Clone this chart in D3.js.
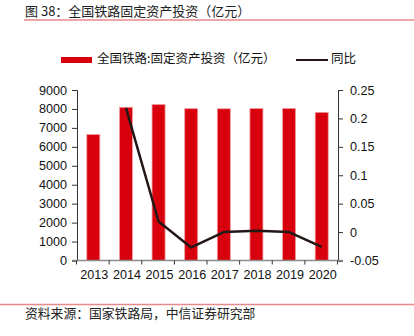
<!DOCTYPE html>
<html>
<head>
<meta charset="utf-8">
<script src="https://cdn.jsdelivr.net/npm/d3@7"></script>
<style>
  html, body { margin: 0; padding: 0; background: #fff; }
  svg { display: block; }
</style>
</head>
<body>
<svg id="chart" width="414" height="336"></svg>
<script>
const years = ["2013", "2014", "2015", "2016", "2017", "2018", "2019", "2020"];
const investment = [6657, 8088, 8238, 8015, 8010, 8028, 8029, 7819];
const yoyYears = ["2014", "2015", "2016", "2017", "2018", "2019", "2020"];
const yoy = [0.2184, 0.0186, -0.0271, 0.0000, 0.0022, 0.0001, -0.0262];
const leftTicks = [0, 1000, 2000, 3000, 4000, 5000, 6000, 7000, 8000, 9000];
const rightTicks = [-0.05, 0, 0.05, 0.1, 0.15, 0.2, 0.25];

const titleText = "图 38：全国铁路固定资产投资（亿元）";
const barLegend = "全国铁路:固定资产投资（亿元）";
const lineLegend = "同比";
const sourceText = "资料来源：国家铁路局，中信证券研究部";

(function () {
const svg = d3.select("#chart");
const cjk = "'Noto Sans CJK SC', 'Noto Sans', sans-serif";
const num = "'Liberation Sans', Arial, sans-serif";

const pL = 77, pR = 338, pT = 90, pB = 260.5;

const x = d3.scaleBand().domain(years).range([pL, pR]).paddingInner(0.6).paddingOuter(0.3);
const yL = d3.scaleLinear().domain([0, 9000]).range([pB, pT]);
const yR = d3.scaleLinear().domain([-0.05, 0.25]).range([pB, pT]);

// title
svg.append("text").attr("x", 25).attr("y", 12).attr("dominant-baseline", "middle")
  .attr("font-family", cjk).attr("font-size", 13).attr("fill", "#222").text(titleText);
svg.append("line").attr("x1", 24).attr("x2", 414).attr("y1", 20).attr("y2", 20)
  .attr("stroke", "#e8898c").attr("stroke-width", 1.5);

// legend
svg.append("rect").attr("x", 61).attr("y", 57).attr("width", 31).attr("height", 6).attr("fill", "#d9000d");
svg.append("text").attr("x", 97).attr("y", 60).attr("dominant-baseline", "middle")
  .attr("font-family", cjk).attr("font-size", 12.5).attr("fill", "#111").text(barLegend);
svg.append("line").attr("x1", 296).attr("x2", 328).attr("y1", 60).attr("y2", 60)
  .attr("stroke", "#231815").attr("stroke-width", 2);
svg.append("text").attr("x", 331).attr("y", 60).attr("dominant-baseline", "middle")
  .attr("font-family", cjk).attr("font-size", 12.5).attr("fill", "#111").text(lineLegend);

// bars
svg.append("g").selectAll("rect").data(years).join("rect")
  .attr("x", (d) => x(d))
  .attr("y", (d, i) => yL(investment[i]))
  .attr("width", x.bandwidth())
  .attr("height", (d, i) => pB - yL(investment[i]))
  .attr("fill", "#d9000d")
  .attr("stroke", "#f2a0a4").attr("stroke-width", 0.8);

// left axis
const axL = svg.append("g").attr("transform", `translate(${pL},0)`)
  .call(d3.axisLeft(yL).tickValues(leftTicks).tickSize(5).tickPadding(5).tickFormat(d3.format("d")));
axL.select(".domain").attr("stroke", "#333");
axL.selectAll(".tick line").attr("stroke", "#333");
axL.selectAll("text").attr("font-family", num).attr("font-size", 12.6).attr("fill", "#111");

// right axis
const axR = svg.append("g").attr("transform", `translate(${pR},0)`)
  .call(d3.axisRight(yR).tickValues(rightTicks).tickSize(5).tickPadding(7).tickFormat((d) => String(+d.toFixed(2))));
axR.select(".domain").attr("stroke", "#333");
axR.selectAll(".tick line").attr("stroke", "#333");
axR.selectAll("text").attr("font-family", num).attr("font-size", 12.6).attr("fill", "#111");

// x axis
const step = x.step();
const gx = svg.append("g");
gx.append("line").attr("x1", pL - 4).attr("x2", pR + 5).attr("y1", pB).attr("y2", pB)
  .attr("stroke", "#8c8c8c").attr("stroke-width", 1.5);
gx.selectAll("line.t").data(d3.range(years.length + 1)).join("line").attr("class", "t")
  .attr("x1", (i) => pL + i * step - 0.5).attr("x2", (i) => pL + i * step - 0.5)
  .attr("y1", pB).attr("y2", pB + 4).attr("stroke", "#333");
gx.selectAll("text").data(years).join("text")
  .attr("x", (d) => x(d) + x.bandwidth() / 2 + 1).attr("y", 276).attr("dominant-baseline", "middle")
  .attr("text-anchor", "middle").attr("font-family", num).attr("font-size", 12.6).attr("fill", "#111")
  .text((d) => d);

// line
const line = d3.line().x((d, i) => x(yoyYears[i]) + x.bandwidth() / 2).y((d) => yR(d));
svg.append("path").datum(yoy).attr("d", line).attr("fill", "none")
  .attr("stroke", "#231815").attr("stroke-width", 2.5).attr("stroke-linejoin", "round");

// source
svg.append("line").attr("x1", 0).attr("x2", 414).attr("y1", 304.5).attr("y2", 304.5)
  .attr("stroke", "#e8898c").attr("stroke-width", 1.5);
svg.append("text").attr("x", 25).attr("y", 315).attr("dominant-baseline", "middle")
  .attr("font-family", cjk).attr("font-size", 12.8).attr("fill", "#222").text(sourceText);
})();
</script>
</body>
</html>
